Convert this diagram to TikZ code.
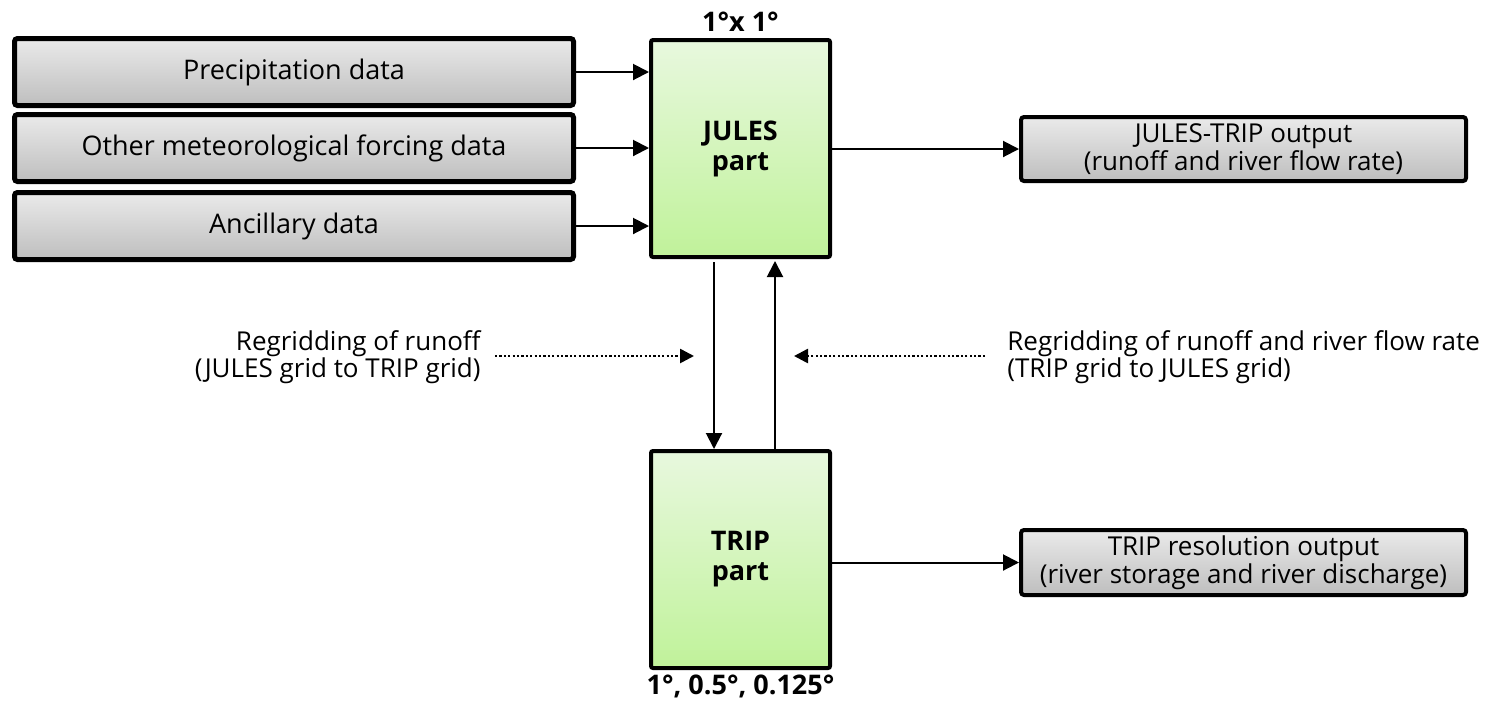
\documentclass[tikz,border=0pt]{standalone}
\usepackage{fontspec}
\setmainfont{Open Sans}
\usetikzlibrary{arrows.meta,calc}
\definecolor{grayTop}{HTML}{EAEAEA}
\definecolor{grayBot}{HTML}{BEBEBE}
\definecolor{greenTop}{HTML}{E8F8DE}
\definecolor{greenBot}{HTML}{C0F29A}
\tikzset{
  txt/.style={font=\fontsize{13}{13.5}\selectfont, inner sep=0pt},
  inbox/.style={draw=black, line width=2.5pt, rounded corners=1.5pt,
    top color=grayTop, bottom color=grayBot, minimum width=279.5pt,
    minimum height=33.5pt, txt, font=\fontsize{13.5}{14}\selectfont, align=center},
  outbox/.style={draw=black, line width=2pt, rounded corners=1.5pt,
    top color=grayTop, bottom color=grayBot, minimum width=222.5pt,
    txt, font=\fontsize{13}{14}\selectfont, align=center},
  partbox/.style={draw=black, line width=2pt, rounded corners=1pt,
    top color=greenTop, bottom color=greenBot, minimum width=89.5pt,
    minimum height=108.5pt, txt, font=\fontsize{13.5}{15}\selectfont\bfseries, align=center},
  flow/.style={line width=1pt, -{Triangle[length=8pt,width=8pt]}},
  regrid/.style={line width=1.3pt, dash pattern=on 1.1pt off 1.1pt,
    -{Triangle[length=7pt,width=7pt]}},
  note/.style={txt, font=\fontsize{13.5}{14}\selectfont\bfseries}
}
\begin{document}
\begin{tikzpicture}[x=0.5pt,y=-0.5pt]
\useasboundingbox (0,0) rectangle (1492,703);

% input data boxes
\node[inbox] (prec) at (294,72) {Precipitation data};
\node[inbox] (met)  at (294,148) {Other meteorological forcing data};
\node[inbox] (anc)  at (294,226) {Ancillary data};

% model parts
\node[partbox] (jules) at (740.5,148.5) {JULES\\part};
\node[partbox] (trip)  at (740.5,559.5) {TRIP\\part};
\node[note, anchor=south] (jres) at ($(jules.north)+(0,-6)$) {1°x 1°};
\node[note, anchor=north] (tres) at ($(trip.south)+(0,5)$) {1°, 0.5°, 0.125°};

% output boxes
\node[outbox, minimum height=32pt] (jout) at (1243.5,149)
  {JULES-TRIP output\\(runoff and river flow rate)};
\node[outbox, minimum height=32.5pt] (tout) at (1243.5,562.5)
  {TRIP resolution output\\(river storage and river discharge)};

% inputs into JULES
\draw[flow] (prec.east) -- (prec.east -| jules.west);
\draw[flow] (met.east)  -- (met.east -| jules.west);
\draw[flow] (anc.east)  -- (anc.east -| jules.west);

% outputs
\draw[flow] (jules.east |- jout.west) -- (jout.west);
\draw[flow] (trip.east |- tout.west) -- (tout.west);

% coupling between the two parts
\coordinate (dnA) at ($(jules.south)+(-26.5,3)$);
\coordinate (upA) at ($(jules.south)+(34.5,2)$);
\draw[flow] (dnA) -- (dnA |- trip.north);
\draw[flow] (upA |- trip.north) -- (upA);

% regridding notes
\coordinate (lS) at (495,356);
\coordinate (lE) at (694,356);
\coordinate (rS) at (985,356);
\coordinate (rE) at (794,356);
\draw[regrid] (lS) -- (lE);
\draw[regrid] (rS) -- (rE);
\node[txt, anchor=east, align=right] (lnote) at (481,357)
  {Regridding of runoff\\(JULES grid to TRIP grid)};
\node[txt, anchor=west, align=left] (rnote) at (1007,357)
  {Regridding of runoff and river flow rate\\(TRIP grid to JULES grid)};
\end{tikzpicture}
\end{document}
